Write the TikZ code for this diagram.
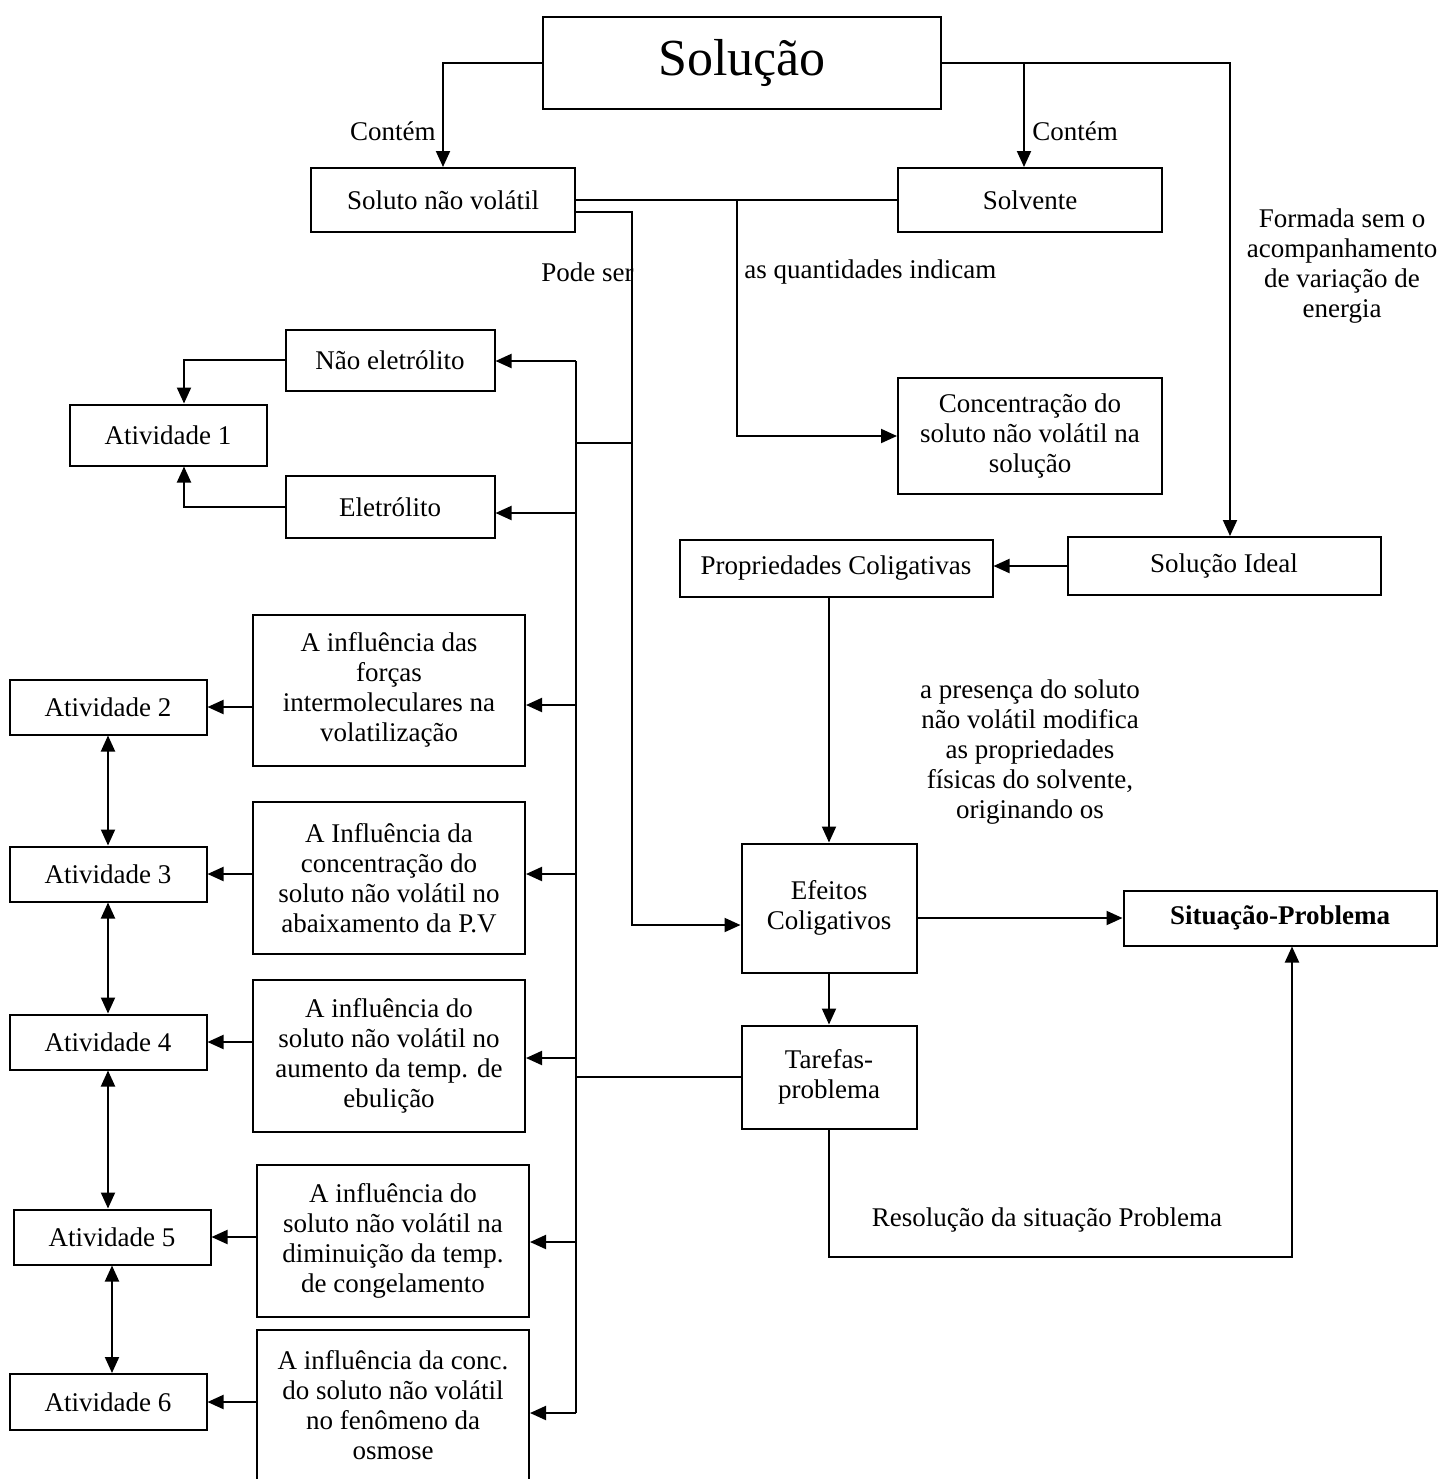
\documentclass[tikz,border=0pt]{standalone}
\usepackage{fontspec}
\setmainfont{Liberation Serif}
\usepackage{tikz}
\usetikzlibrary{positioning, arrows.meta, calc}
\newcommand{\mapfont}{\fontsize{13.5}{15}\selectfont}
\colorlet{rule}{black}
\tikzset{
  box/.style   ={draw=rule, line width=1pt, inner sep=0pt, align=center,
                 font=\mapfont},
  title/.style ={box, font=\fontsize{26}{30}\selectfont},
  act/.style   ={box, minimum width=98.5pt, minimum height=27.5pt},
  infl/.style  ={box, minimum width=136pt, minimum height=76pt},
  lbl/.style   ={inner sep=0pt, align=center, font=\mapfont},
  link/.style  ={-, rule, line width=1pt},
  arr/.style   ={-{Triangle[length=8pt,width=7pt]}, rule, line width=1pt},
  darr/.style  ={{Triangle[length=8pt,width=7pt]}-{Triangle[length=8pt,width=7pt]},
                 rule, line width=1pt},
}

\begin{document}
\begin{tikzpicture}[x=0.5pt, y=-0.5pt]
\useasboundingbox (0,0) rectangle (1447,1479);

% top: solution, solute, solvent
\node[title, minimum width=199pt, minimum height=46pt] (sol) at (742,63) {Solução};
\node[box, minimum width=132pt, minimum height=32pt] (soluto) at (443,200) {Soluto não volátil};
\node[box, minimum width=132pt, minimum height=32pt] (solv) at (1030,200) {Solvente};
\node[box, minimum width=132pt, minimum height=58pt] (conc) at (1030,436)
  {Concentração do\\ soluto não volátil na\\ solução};

\draw[arr] (sol.west) -| (soluto.north);
\draw[arr] ([xshift=-3pt]sol.east -| solv.north) -- ([xshift=-3pt]solv.north);
\node[lbl, anchor=east] (lblContemL) at (436,131) {Contém};
\node[lbl, anchor=west] (lblContemR) at (1032,131) {Contém};

% quantities
\draw[link] (soluto.east) -- (solv.west);
\coordinate (qd) at (737,200);
\draw[arr] (qd) |- (conc.west);
\node[lbl, anchor=west] (lblQuant) at (744,272) {as quantidades indicam};

% ideal solution -> colligative properties
\node[box, minimum width=156.5pt, minimum height=29pt] (ideal) at (1224,566) {Solução Ideal};
\node[box, minimum width=156.5pt, minimum height=28.5pt] (prop) at (836,568) {Propriedades Coligativas};
\draw[arr] (sol.east) -| ([xshift=3pt]ideal.north);
\draw[arr] (ideal.west) -- (ideal.west -| prop.east);
\node[lbl] (lblForm) at (1342,266)
  {Formada sem o\\ acompanhamento\\ de variação de\\ energia};

% effects, tasks, problem
\node[box, minimum width=87.5pt, minimum height=64.5pt] (efe) at (829,908) {Efeitos\\ Coligativos};
\node[box, minimum width=87.5pt, minimum height=51.5pt] (tar) at (829,1077) {Tarefas-\\ problema};
\node[box, minimum width=156.5pt, minimum height=27.5pt, font=\mapfont\bfseries] (sit)
  at (1280,918) {Situação-Problema};
\draw[arr] (efe.north |- prop.south) -- (efe.north);
\node[lbl] (lblPres) at (1030,752)
  {a presença do soluto\\ não volátil modifica\\ as propriedades\\ físicas do solvente,\\ originando os};
\draw[arr] (efe.east |- sit.west) -- (sit.west);
\draw[arr] (efe.south) -- (tar.north);
\coordinate (rs) at (826,1257);
\draw[arr] (tar.south) -- (tar.south |- rs) -| ([xshift=6pt]sit.south);
\node[lbl] (lblRes) at (1047,1220) {Resolução da situação Problema};

% solute can be ...
\coordinate (ps) at (632,212);
\draw[arr] (soluto.east |- ps) -- (ps) |- ([yshift=-8.5pt]efe.west);
\node[lbl, anchor=east] (lblPode) at (634,272) {Pode ser};

% electrolyte / activity 1
\node[box, minimum width=104.5pt, minimum height=30.5pt] (nel) at (390,360) {Não eletrólito};
\node[box, minimum width=104.5pt, minimum height=31pt] (ele) at (390,507) {Eletrólito};
\node[box, minimum width=98.5pt, minimum height=30.5pt] (at1) at (168,435) {Atividade 1};
\draw[arr] (nel.west) -| ([xshift=8pt]at1.north);
\draw[arr] (ele.west) -| ([xshift=8pt]at1.south);

% influence boxes
\node[infl, minimum height=75.5pt] (inf1) at (389,690)
  {A influência das\\ forças\\ intermoleculares na\\ volatilização};
\node[infl] (inf2) at (389,878)
  {A Influência da\\ concentração do\\ soluto não volátil no\\ abaixamento da P.V};
\node[infl] (inf3) at (389,1056)
  {A influência do\\ soluto não volátil no\\ aumento da temp. de\\ ebulição};
\node[infl] (inf4) at (393,1241)
  {A influência do\\ soluto não volátil na\\ diminuição da temp.\\ de congelamento};
\node[infl, minimum height=75pt] (inf5) at (393,1405)
  {A influência da conc.\\ do soluto não volátil\\ no fenômeno da\\ osmose};

% activities 2-6
\node[act] (at2) at (108,707) {Atividade 2};
\node[act] (at3) at (108,874) {Atividade 3};
\node[act] (at4) at (108,1042) {Atividade 4};
\node[act] (at5) at (112,1237) {Atividade 5};
\node[act, minimum height=28pt] (at6) at (108,1402) {Atividade 6};
\foreach \a/\b in {at2/at3, at3/at4, at4/at5, at5/at6}
  \draw[darr] (\a.south) -- (\a.south |- \b.north);
\foreach \n/\t in {inf1/at2, inf2/at3, inf3/at4, inf4/at5, inf5/at6}
  \draw[arr] (\n.west |- \t.east) -- (\t.east);

% bus to the left column
\foreach \n/\y in {nel/361, ele/513, inf1/705, inf2/874, inf3/1058, inf4/1242, inf5/1413} {
  \coordinate (tap-\n) at (576,\y);
  \draw[arr] (tap-\n) -- (tap-\n -| \n.east);
}
\draw[link] (tap-nel) -- (tap-inf5);
\coordinate (busjoin) at (576,443);
\draw[link] (busjoin) -- (busjoin -| ps);
\draw[link] (tar.west) -- (tar.west -| busjoin);

\end{tikzpicture}
\end{document}
